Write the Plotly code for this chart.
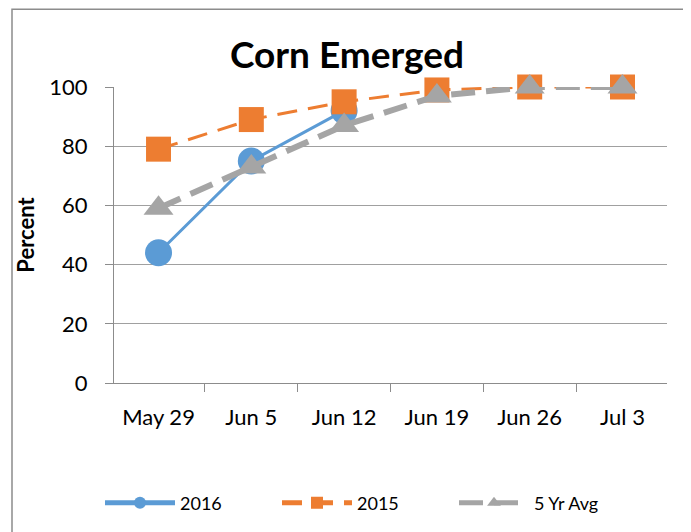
import plotly.graph_objects as go

categories = ["May 29", "Jun 5", "Jun 12", "Jun 19", "Jun 26", "Jul 3"]
y2016 = [44, 75, 92, None, None, None]
y2015 = [79, 89, 95, 99, 100, 100]
y5yr = [59, 73, 87, 97, 100, 100]

# page has an 8px body margin, so the figure is offset by 8px
OFF = 8
W, H = 691 - OFF, 532 - OFF
L, R, T, B = 114 - OFF, 691 - 667, 87 - OFF, 532 - 384
pw, ph = W - L - R, H - T - B

def px_x(px):
    return (px - OFF - L) / pw

def px_y(py):
    return (H - B - (py - OFF)) / ph

FONT = "Lato"

fig = go.Figure()
fig.add_trace(go.Scatter(
    x=categories, y=y2016, name="2016", mode="lines+markers", cliponaxis=False,
    line=dict(color="#5B9BD5", width=3),
    marker=dict(symbol="circle", size=27, color="#5B9BD5"),
))
fig.add_trace(go.Scatter(
    x=categories, y=y2015, name="2015", mode="lines+markers", cliponaxis=False,
    line=dict(color="#ED7D31", width=3, dash="20px,11px"),
    marker=dict(symbol="square", size=25, color="#ED7D31"),
))
fig.add_trace(go.Scatter(
    x=categories, y=y5yr, name="5 Yr Avg", mode="lines+markers", cliponaxis=False,
    line=dict(color="#A5A5A5", width=6, dash="24px,11px"),
    marker=dict(symbol="triangle-up", size=26, color="#A5A5A5"),
))

fig.update_layout(
    width=W, height=H,
    margin=dict(l=L, r=R, t=T, b=B),
    paper_bgcolor="white", plot_bgcolor="white",
    font=dict(family=FONT, color="black"),
    title=dict(text="<b>Corn Emerged</b>", x=px_x(347), xref="paper",
               xanchor="center", y=1 - (55 - OFF) / H, yref="container", yanchor="middle",
               font=dict(size=37, family=FONT, color="black")),
    showlegend=True,
    legend=dict(orientation="h", x=px_x(100), xanchor="left",
                y=px_y(503), yanchor="middle", font=dict(size=18, family=FONT),
                itemsizing="constant", itemwidth=70,
                entrywidth=92, entrywidthmode="pixels",
                bgcolor="rgba(0,0,0,0)"),
    shapes=[dict(type="rect", xref="paper", yref="paper",
                 x0=px_x(12), x1=px_x(684), y0=px_y(545), y1=px_y(9),
                 line=dict(color="#8C8C8C", width=1.5), layer="below")],
)
fig.update_xaxes(
    type="category", showgrid=False, showline=True, linecolor="#8C8C8C", linewidth=1,
    ticks="outside", tickson="boundaries", ticklen=8, tickcolor="#8C8C8C",
    tickfont=dict(size=22, family=FONT), ticklabelstandoff=15,
)
fig.update_yaxes(
    range=[0, 100], dtick=20, showgrid=True, gridcolor="#A0A0A0", gridwidth=1,
    showline=True, linecolor="#8C8C8C", linewidth=1, zeroline=False,
    ticks="outside", ticklen=8, tickcolor="#8C8C8C",
    tickfont=dict(size=22, family=FONT), ticklabelstandoff=13,
    title=dict(text="<b>Percent</b>", font=dict(size=22, family=FONT), standoff=8),
)

fig.write_html("out.html")
